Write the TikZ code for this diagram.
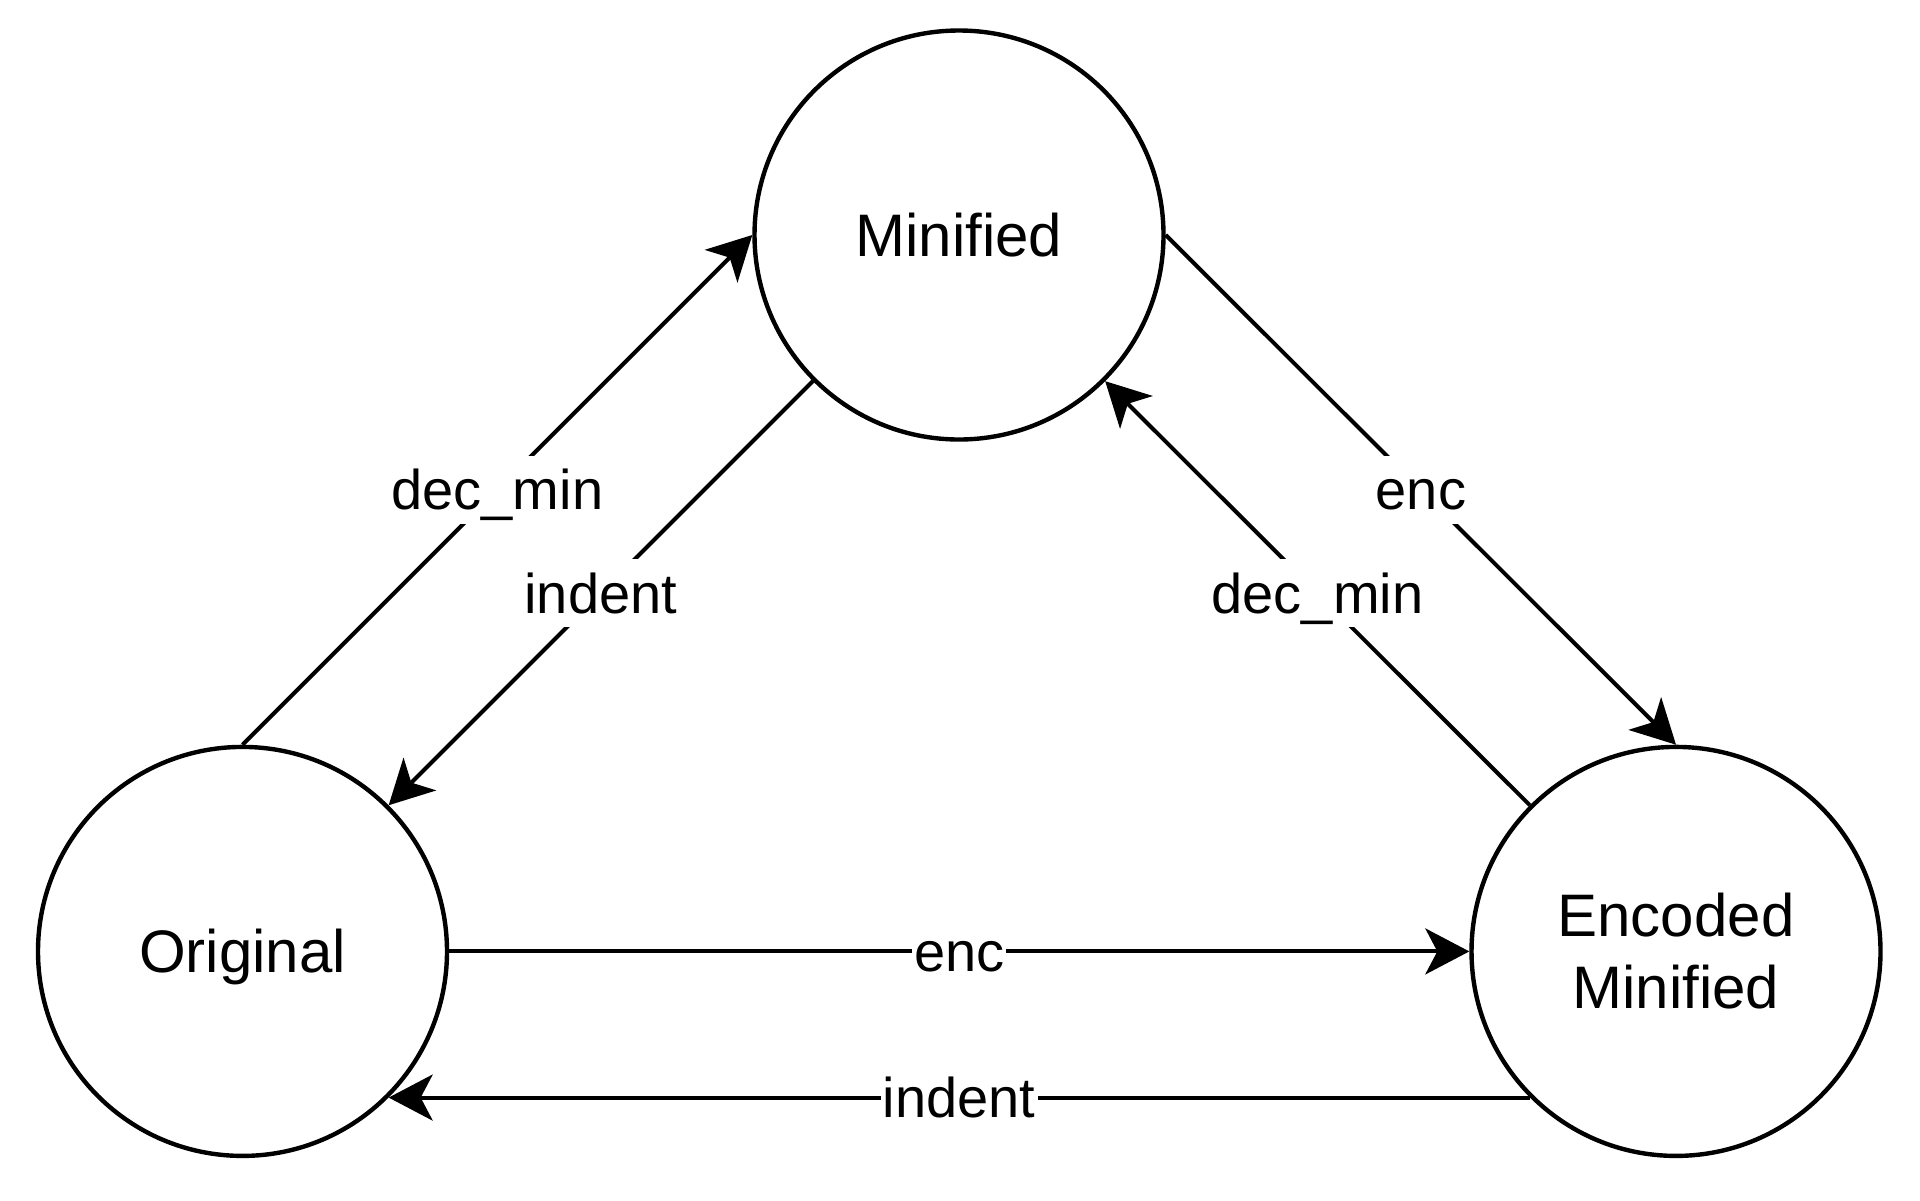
\documentclass[tikz,border=0pt]{standalone}
\usepackage{fontspec}
\setmainfont{Liberation Sans}
\usetikzlibrary{arrows.meta}
\begin{document}
\begin{tikzpicture}[x=0.5pt,y=-0.5pt,
  state/.style={circle,draw,line width=2.2pt,minimum size=204.5pt,inner sep=0pt,font=\fontsize{30}{36}\selectfont},
  single/.style={text height=21.5pt,text depth=0pt},
  multi/.style={align=center},
  conn/.style={line width=2pt,-{Stealth[length=22pt,width=23pt,inset=6pt]}},
  lbl/.style={fill=white,inner xsep=1pt,inner ysep=0pt,text height=27pt,text depth=7pt,font=\fontsize{28}{34}\selectfont}]
\useasboundingbox (0,0) rectangle (1920,1200);
\node[state,single] (min) at (959,235) {Minified};
\node[state,single] (orig) at (242.5,951.4) {Original};
\node[state,multi] (enc) at (1676,951.4) {Encoded\\Minified};
\draw[conn] (orig.north) -- node[lbl]{dec\_min} (min.west);
\draw[conn] (min.225) -- node[lbl]{indent} (orig.45);
\draw[conn] (min.east) -- node[lbl]{enc} (enc.north);
\draw[conn] (enc.135) -- node[lbl]{dec\_min} (min.-45);
\draw[conn] (orig.east) -- node[lbl]{enc} (enc.west);
\draw[conn] (enc.225) -- node[lbl]{indent} (orig.-45);
\end{tikzpicture}
\end{document}
